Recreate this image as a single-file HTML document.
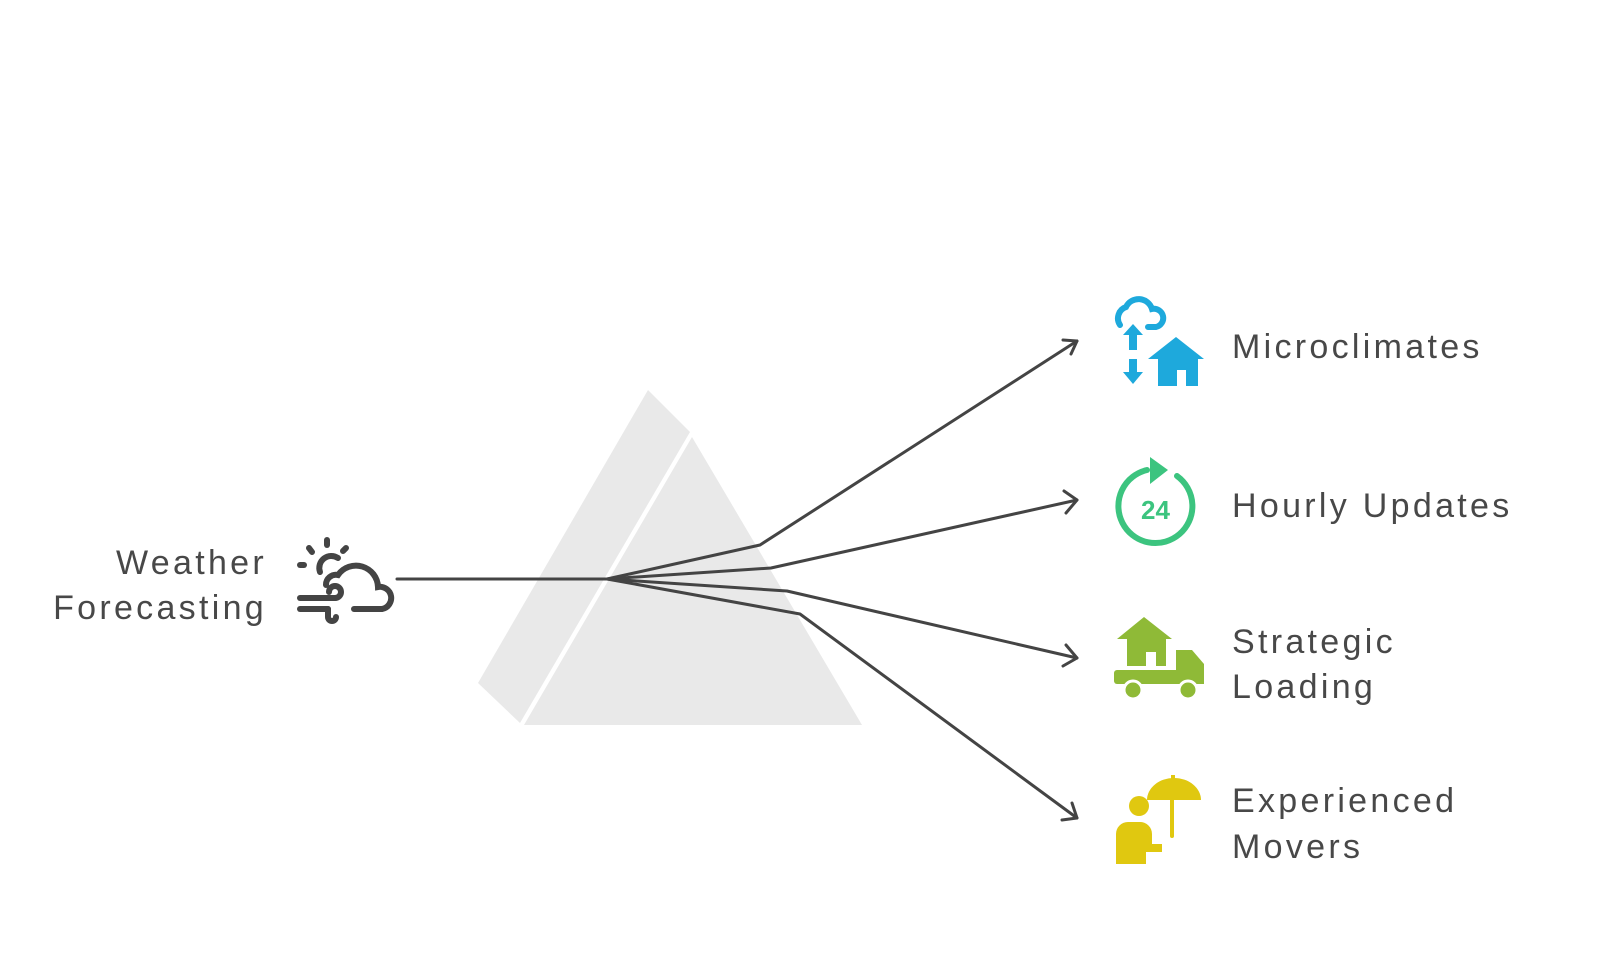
<!DOCTYPE html>
<html><head><meta charset="utf-8"><style>
html,body{margin:0;padding:0;background:#fff;}
svg{display:block}
text{font-family:"Liberation Sans",sans-serif;font-size:34px;fill:#484848;letter-spacing:3.3px;}
</style></head><body>
<svg width="1600" height="974" viewBox="0 0 1600 974" xmlns="http://www.w3.org/2000/svg">
<polygon points="648,390 690,432 520,723 478,683" fill="#e9e9e9"/>
<polygon points="692,437 862,725 524,725" fill="#e9e9e9"/>
<g fill="none" stroke="#444" stroke-width="3" stroke-linecap="round" stroke-linejoin="round">
<line x1="397" y1="579" x2="607" y2="579"/>
<polyline points="607,579 760,545 1077,341"/>
<polyline points="607,579 771,568 1077,500"/>
<polyline points="607,579 787,591 1077,658"/>
<polyline points="607,579 800,614 1077,818"/>
<polyline points="1063,340 1077,341 1071,354"/>
<polyline points="1064,491 1077,500 1066,513"/>
<polyline points="1066,645 1077,658 1063,666"/>
<polyline points="1072,803 1077,818 1062,820"/>
</g>
<g fill="none" stroke="#444" stroke-width="6" stroke-linecap="round">
<path d="M320,572 a12,12 0 0 1 18,-14"/>
<path d="M326,585 a10,10 0 0 1 12,-10 a22,22 0 0 1 40,12 a10,10 0 0 1 4,22 h-28"/>
<line x1="300" y1="598" x2="335" y2="598"/>
<line x1="300" y1="609" x2="328" y2="609"/>
<path d="M335,598 a6,6 0 1 0 -6,-6"/>
<path d="M328,609 v8 a4,4 0 0 0 8,0"/>
<line x1="327" y1="540" x2="327" y2="545"/>
<line x1="309" y1="548" x2="312" y2="552"/>
<line x1="300" y1="565" x2="304" y2="565"/>
<line x1="346" y1="548" x2="343" y2="551"/>
</g>
<g fill="#1ea9dc">
<path d="M1120,325 a12,12 0 0 1 6,-18 a14,14 0 0 1 26,2 a9,9 0 0 1 4,18 h-8" fill="none" stroke="#1ea9dc" stroke-width="6" stroke-linecap="round"/>
<polygon points="1133,324 1143,335 1137,335 1137,350 1129,350 1129,335 1123,335"/>
<polygon points="1129,359 1137,359 1137,372 1143,372 1133,384 1123,372 1129,372"/>
<polygon points="1176,337 1204,359 1198,359 1198,386 1186,386 1186,370 1177,370 1177,386 1158,386 1158,359 1148,359"/>
</g>
<g>
<path d="M1147,470 a37,37 0 1 0 30,6" fill="none" stroke="#3cc47f" stroke-width="6" stroke-linecap="round"/>
<polygon points="1150,457 1168,470 1150,484" fill="#3cc47f"/>
<text x="1141" y="519" style="font-size:26px;font-weight:bold;fill:#3cc47f;letter-spacing:0">24</text>
</g>
<g fill="#8fba37">
<polygon points="1144,617 1172,639 1166,639 1166,666 1156,666 1156,652 1146,652 1146,666 1127,666 1127,639 1117,639"/>
<rect x="1114" y="670" width="75" height="14" rx="3"/>
<path d="M1176,650 h16 l12,14 v20 h-28 z"/>
<circle cx="1133" cy="690" r="9" stroke="#fff" stroke-width="3"/>
<circle cx="1188" cy="690" r="9" stroke="#fff" stroke-width="3"/>
</g>
<g fill="#e0c810">
<path d="M1147,800 a27,22 0 0 1 54,0 z"/>
<rect x="1171" y="775" width="4" height="8"/>
<path d="M1172,800 v36" stroke="#e0c810" stroke-width="4" fill="none" stroke-linecap="round"/>
<circle cx="1139" cy="806" r="10"/>
<path d="M1116,864 v-30 a12,12 0 0 1 12,-12 h12 a12,12 0 0 1 12,12 v10 h10 v8 h-16 v12 z"/>
</g>
<text x="267" y="574" text-anchor="end">Weather</text>
<text x="267" y="619" text-anchor="end">Forecasting</text>
<text x="1232" y="358">Microclimates</text>
<text x="1232" y="517">Hourly Updates</text>
<text x="1232" y="653">Strategic</text>
<text x="1232" y="698">Loading</text>
<text x="1232" y="812">Experienced</text>
<text x="1232" y="858">Movers</text>
</svg>
</body></html>
